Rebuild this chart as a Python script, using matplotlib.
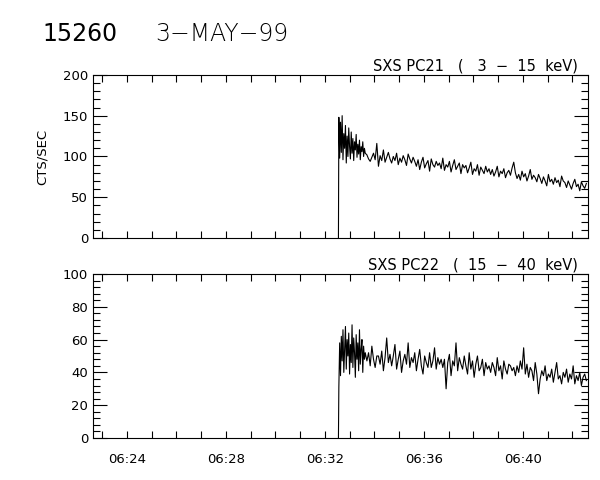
import numpy as np
import matplotlib
matplotlib.use("Agg")
import matplotlib.pyplot as plt
from matplotlib.ticker import MultipleLocator, FuncFormatter

# times are in seconds after 06:00:00
onset_t = 32 * 60 + 33          # 06:32:33, count rate jumps from 0
burst_t0, burst_dt = 32 * 60 + 34, 2   # fast sampled part
tail_t0, tail_dt = 33 * 60 + 42, 4     # slower sampled part

# SXS PC21 (3 - 15 keV)
pc21_burst = [148, 98, 142, 105, 150, 96, 128, 110, 138, 92, 125, 100, 135, 112, 97, 130, 104,
              122, 95, 118, 108, 127, 99, 115, 103, 120, 96, 112, 106, 118, 100, 110, 104]
pc21_tail = [102, 97, 94, 99, 104, 96, 116, 88, 101, 95, 108, 93, 99, 105, 97,
             92, 100, 95, 104, 90, 98, 93, 101, 96, 89, 103, 97, 92, 99, 94,
             88, 96, 84, 93, 99, 86, 91, 95, 82, 97, 90, 87, 94, 89, 92,
             85, 98, 83, 90, 87, 94, 81, 89, 96, 84, 88, 92, 79, 90, 86,
             89, 80, 86, 93, 78, 85, 82, 90, 77, 87, 83, 79, 88, 81, 85,
             78, 84, 76, 81, 88, 75, 82, 79, 85, 74, 80, 83, 77, 86, 93,
             80, 73, 78, 71, 82, 75, 79, 70, 76, 84, 72, 77, 74, 69, 78,
             73, 67, 75, 70, 64, 78, 69, 72, 66, 74, 68, 71, 63, 76, 70,
             68, 62, 70, 65, 60, 67, 72, 63, 66, 58, 69, 64, 61, 67]

# SXS PC22 (15 - 40 keV)
pc22_burst = [31, 58, 38, 62, 47, 66, 40, 55, 68, 42, 60, 50, 64, 39, 57, 46, 69,
              43, 61, 52, 37, 63, 48, 58, 41, 66, 45, 54, 60, 40, 56, 48, 52]
pc22_tail = [47, 52, 44, 56, 48, 43, 50, 50, 45, 53, 41, 49, 61, 46, 51,
             44, 50, 57, 42, 48, 53, 40, 47, 51, 45, 58, 43, 49, 46, 52,
             41, 48, 54, 44, 39, 50, 46, 43, 52, 43, 47, 55, 42, 49, 45,
             48, 43, 48, 30, 46, 51, 38, 47, 44, 58, 41, 49, 45, 42, 50,
             44, 39, 52, 42, 47, 37, 45, 50, 41, 43, 48, 38, 46, 42, 44,
             40, 46, 43, 38, 49, 41, 44, 36, 47, 42, 39, 45, 44, 41, 43,
             38, 44, 40, 47, 42, 55, 39, 45, 37, 43, 41, 35, 46, 39, 27,
             36, 41, 38, 44, 35, 39, 37, 42, 34, 40, 46, 36, 38, 33, 40,
             37, 42, 34, 39, 36, 44, 33, 38, 35, 40, 32, 37, 39, 35]

panels = [("SXS PC21   (   3  \u2212  15  keV)", pc21_burst, pc21_tail, 200, 50),
          ("SXS PC22   (  15  \u2212  40  keV)", pc22_burst, pc22_tail, 100, 20)]


def series(burst, tail):
    tb = burst_t0 + burst_dt * np.arange(len(burst))
    tt = tail_t0 + tail_dt * np.arange(len(tail))
    t = np.concatenate([[onset_t], tb, tt]) / 60.0
    y = np.concatenate([[0], burst, tail])
    return t, y


plt.rcParams['font.family'] = 'DejaVu Sans'
fig = plt.figure(figsize=(6, 4.8), dpi=100)

fig.text(0.07, 0.93, "15260", fontsize=17, va='center', ha='left')
fig.text(0.258, 0.93, "3\u2212MAY\u221299", fontsize=17, va='center', ha='left',
         fontweight='light', color='black')

boxes = [[0.155, 0.504, 0.825, 0.340], [0.155, 0.0875, 0.825, 0.3417]]
for i, (label, burst, tail, ymax, ystep) in enumerate(panels):
    ax = fig.add_axes(boxes[i])
    t, y = series(burst, tail)
    ax.plot(t, y, color='black', lw=0.8)
    ax.set_xlim(22 + 38 / 60, 42 + 38 / 60)
    ax.set_ylim(0, ymax)
    ax.yaxis.set_major_locator(MultipleLocator(ystep))
    ax.yaxis.set_minor_locator(MultipleLocator(ystep / 5))
    ax.xaxis.set_major_locator(MultipleLocator(4))
    ax.xaxis.set_minor_locator(MultipleLocator(1))
    ax.xaxis.set_major_formatter(FuncFormatter(lambda v, p: "06:%02d" % round(v)))
    ax.tick_params(which='both', direction='in', top=True, right=True, labelsize=9.5, width=0.8)
    ax.tick_params(axis='y', which='major', length=10)
    ax.tick_params(axis='y', which='minor', length=5)
    ax.tick_params(axis='x', which='both', length=5, pad=11)
    for s in ax.spines.values():
        s.set_linewidth(0.8)
    ax.text(0.98, 1.01, label, transform=ax.transAxes, ha='right', va='bottom',
            fontsize=10.5)
    if i == 0:
        ax.set_xticklabels([])
        ax.set_ylabel("CTS/SEC", fontsize=9.5, labelpad=10)

fig.savefig("out.png", dpi=100)
